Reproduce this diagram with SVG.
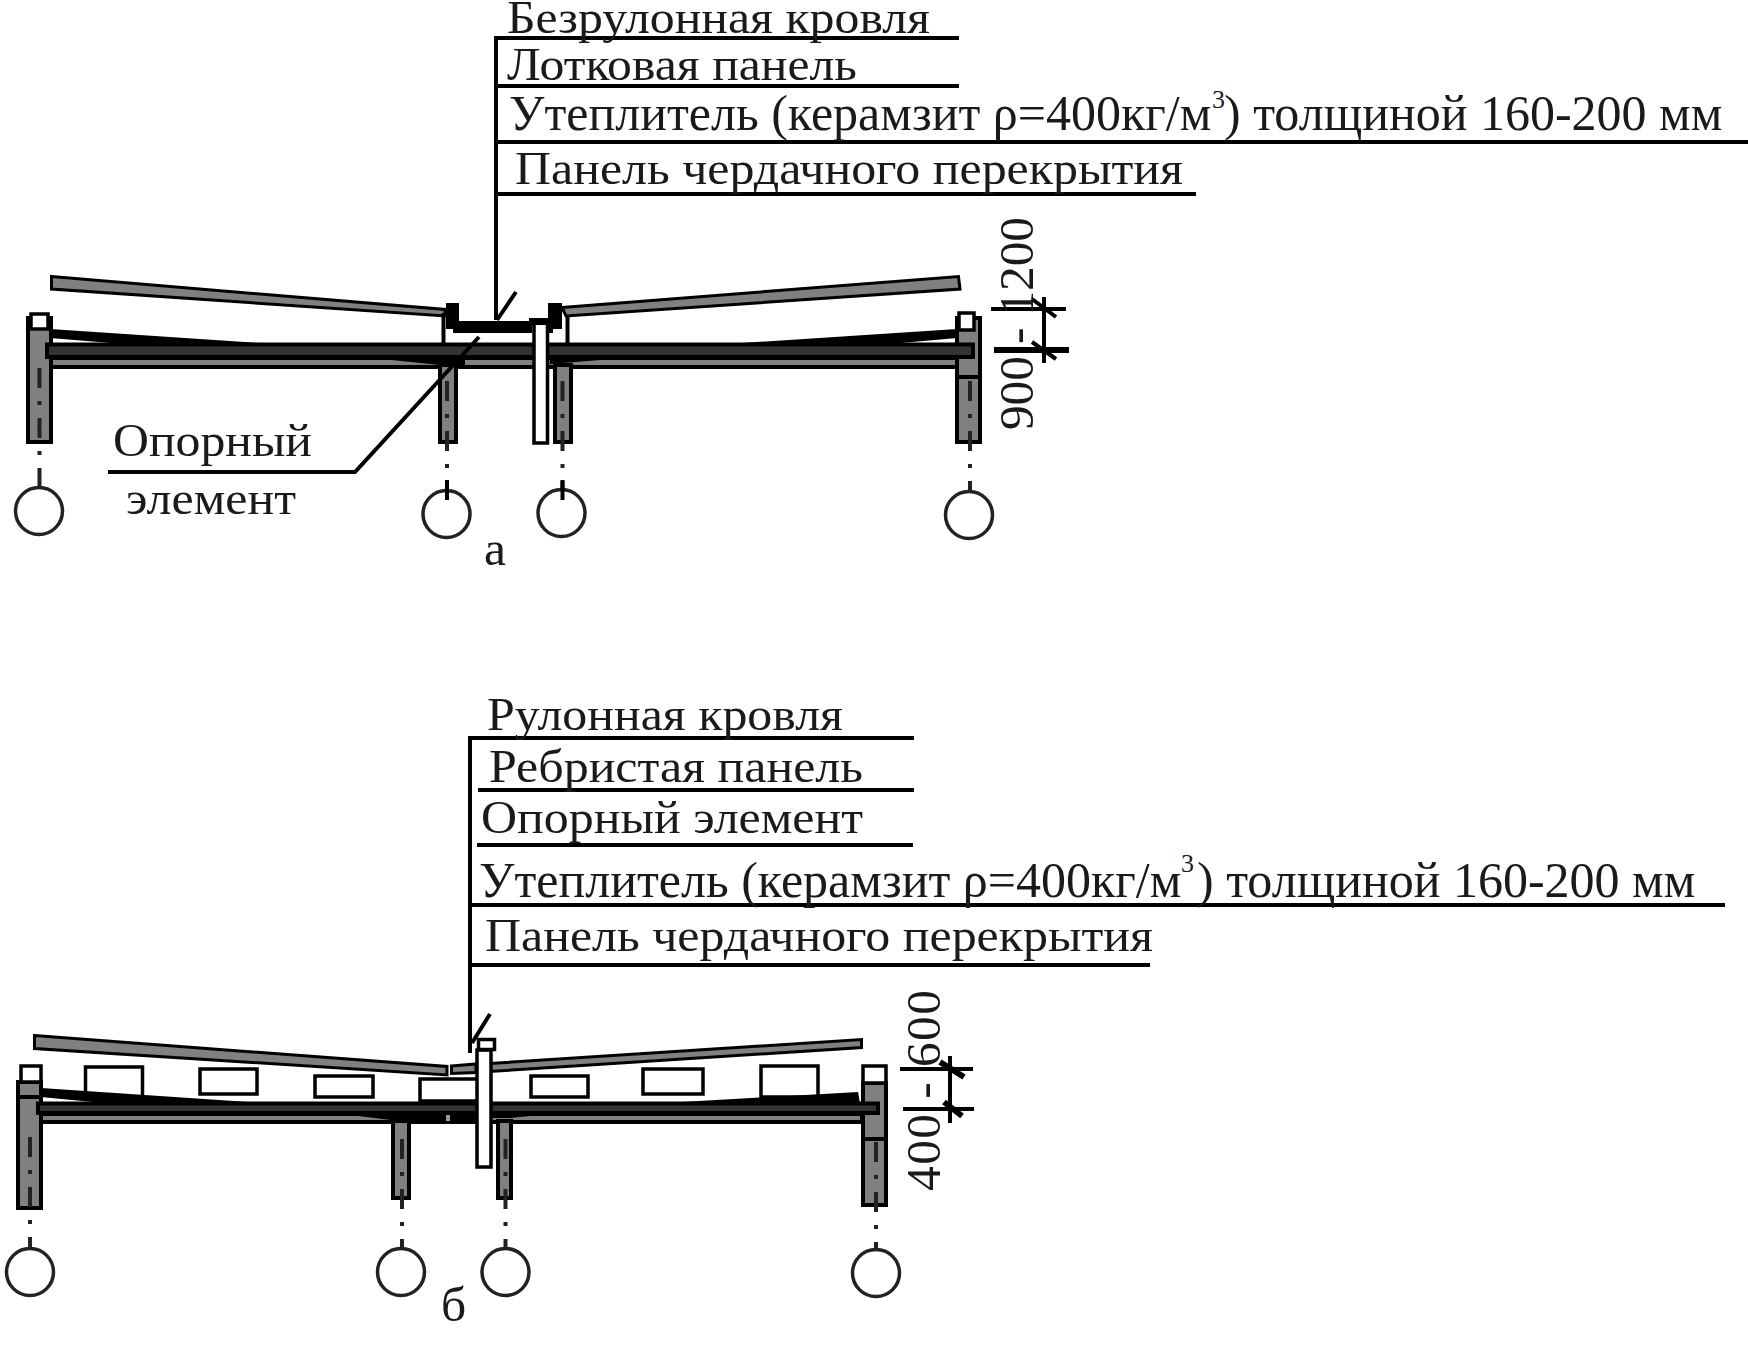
<svg xmlns="http://www.w3.org/2000/svg" width="1748" height="1367" viewBox="0 0 1748 1367">
<style>
text{font-family:"Liberation Serif","Times New Roman",serif;font-size:47px;fill:#1a1a1a}
.big{font-size:49.500px}
.wide{font-size:50px}
.sup{font-size:26px}
.g{fill:#808080;stroke:#000;stroke-width:4;stroke-linejoin:miter}
.r{fill:#808080;stroke:#000;stroke-width:3;stroke-linejoin:miter}
.d{fill:#333;stroke:#000;stroke-width:4}
.w{fill:#fff;stroke:#000;stroke-width:3.5}
.k{fill:#000;stroke:none}
.l{fill:none;stroke:#000;stroke-width:4}
.t{fill:none;stroke:#000;stroke-width:6}
.ax{fill:none;stroke:#222;stroke-width:4;stroke-dasharray:20 13 4 13}
.c{fill:#fff;stroke:#222;stroke-width:3.500}
</style>
<rect width="1748" height="1367" fill="#fff"/>

<g id="section-a">
  <polygon id="a-roof-left" class="r" points="51.500,276.500 445,309.500 445,316 51.500,289"/>
  <polygon id="a-roof-right" class="r" points="562,307.500 958.500,276.500 960,289 566,316"/>
  <g id="a-supports">
    <line class="l" x1="443.500" y1="313" x2="443.500" y2="344"/>
    <line class="l" x1="567.500" y1="315" x2="567.500" y2="344"/>
  </g>
  <rect id="a-lower-bar" class="g" x="41" y="358" width="916" height="9"/>
  <rect id="a-col-1" class="g" x="28" y="318" width="23" height="124"/>
  <rect id="a-col-2" class="g" x="440" y="365" width="16" height="77"/>
  <rect id="a-col-3" class="g" x="555" y="365" width="16" height="77"/>
  <rect id="a-col-4" class="g" x="957" y="318" width="23" height="124"/>
  <line class="l" x1="955" y1="377" x2="981" y2="377"/>
  <polygon id="a-wedge-1" class="k" points="50,329 259,343 111,343 50,338"/>
  <polygon id="a-wedge-2" class="k" points="957,329 742,343 901,343 957,338"/>
  <polygon id="a-wedge-3" class="k" points="362,357 465,357 465,365 440,365"/>
  <polygon id="a-wedge-4" class="k" points="550,357 638,357 550,364"/>
  <rect id="a-top-bar" class="d" x="47" y="344.500" width="926" height="12.500"/>
  <rect id="a-cap-1" class="w" x="31" y="314" width="17" height="15"/>
  <rect id="a-cap-4" class="w" x="959" y="313" width="15" height="17"/>
  <polygon id="a-tray" class="k" points="446,303 459,303 459,321 532,321 532,333 453,333 453,329 446,329"/>
  <polygon id="a-tray-right" class="k" points="548,303 562,303 562,329 553,329 553,333 548,333"/>
  <rect id="a-post" class="w" x="534" y="323" width="13.500" height="120"/>
  <rect id="a-post-cap" class="k" x="529" y="318" width="19" height="7"/>
  <line class="ax" x1="39.500" y1="368" x2="39.500" y2="487"/>
  <line class="ax" x1="447" y1="381" x2="447" y2="500"/>
  <line class="ax" x1="562.500" y1="381" x2="562.500" y2="500"/>
  <line class="ax" x1="970" y1="381" x2="970" y2="490"/>
  <circle id="a-axis-1" class="c" cx="39" cy="511" r="23.500"/>
  <circle id="a-axis-2" class="c" cx="446.500" cy="514" r="23.500"/>
  <circle id="a-axis-3" class="c" cx="561.500" cy="513" r="23.500"/>
  <circle id="a-axis-4" class="c" cx="969" cy="515" r="23.500"/>
  <line class="l" x1="447" y1="480" x2="447" y2="500"/>
  <line class="l" x1="562.500" y1="480" x2="562.500" y2="500"/>
</g>

<g id="section-b">
  <polygon id="b-roof-left" class="r" points="34.500,1035.500 447,1066.500 447,1075 34.500,1048.500"/>
  <polygon id="b-roof-mid" class="r" points="451.500,1066 476,1064 476,1072.500 451.500,1073.500"/>
  <polygon id="b-roof-right" class="r" points="490,1063.500 861.500,1039.500 861.500,1047.500 490,1071.500"/>
  <rect id="b-r1" class="w" x="85.500" y="1067" width="57" height="31"/>
  <rect id="b-r2" class="w" x="200" y="1069" width="57" height="25"/>
  <rect id="b-r3" class="w" x="315" y="1076" width="58" height="21"/>
  <rect id="b-r4" class="w" x="420" y="1079" width="58" height="22"/>
  <rect id="b-r5" class="w" x="531" y="1076" width="57" height="21"/>
  <rect id="b-r6" class="w" x="643" y="1069" width="60" height="25"/>
  <rect id="b-r7" class="w" x="761" y="1066" width="57" height="31"/>
  <rect id="b-lower-bar" class="g" x="32" y="1114" width="830" height="8"/>
  <rect id="b-col-1" class="g" x="18" y="1082" width="23" height="126"/>
  <rect id="b-col-2" class="g" x="393" y="1121" width="16" height="77"/>
  <rect id="b-col-3" class="g" x="498" y="1121" width="13" height="77"/>
  <rect id="b-col-4" class="g" x="863" y="1083" width="23" height="122"/>
  <line class="l" x1="16" y1="1097" x2="40" y2="1097"/>
  <line class="l" x1="861" y1="1139" x2="887" y2="1139"/>
  <polygon id="b-wedge-1" class="k" points="41,1088 265,1103 103,1103 41,1097"/>
  <polygon id="b-wedge-2" class="k" points="858,1092 664,1103 860,1103"/>
  <polygon id="b-wedge-3" class="k" points="334,1113 478,1113 478,1120 391,1120"/>
  <polygon id="b-wedge-4" class="k" points="490,1113 560,1113 510,1118 490,1118"/>
  <rect id="b-top-bar" class="d" x="38" y="1103.500" width="840" height="9.500"/>
  <rect id="b-grey-tab" x="446" y="1115" width="4" height="6" fill="#999"/>
  <rect id="b-cap-1" class="w" x="21" y="1066" width="20" height="16"/>
  <rect id="b-cap-4" class="w" x="863" y="1066" width="23" height="17"/>
  <rect id="b-post" class="w" x="477" y="1050" width="14" height="117"/>
  <rect id="b-post-cap" class="w" x="478.500" y="1039.500" width="16" height="10"/>
  <line class="ax" x1="30" y1="1137" x2="30" y2="1247"/>
  <line class="ax" x1="402" y1="1139" x2="402" y2="1247"/>
  <line class="ax" x1="505.500" y1="1139" x2="505.500" y2="1247"/>
  <line class="ax" x1="876" y1="1142" x2="876" y2="1248"/>
  <circle id="b-axis-1" class="c" cx="30" cy="1272" r="23.500"/>
  <circle id="b-axis-2" class="c" cx="401" cy="1272" r="23.500"/>
  <circle id="b-axis-3" class="c" cx="505.500" cy="1272" r="23.500"/>
  <circle id="b-axis-4" class="c" cx="876" cy="1273" r="23.500"/>
</g>

<g id="connectors">
  <path class="l" d="M959 38H496V320M497 320L516 292M496 86H959M496 142H1748M496 194H1196"/>
  <path class="l" d="M108 472H355L479 337"/>
  <path class="l" d="M914 738H470V1053M472 1043L490 1014M478 790H914M477 845H913M470 905H1725M470 965H1150"/>
  <path class="l" d="M1044 297V363M991 309H1066M1032 299L1056 317M1032 342L1056 359"/>
  <path class="t" d="M994 350H1069"/>
  <path class="l" d="M950 1056V1123M900 1069H973M903 1109H974"/>
  <path class="t" d="M940 1062L964 1077M944 1102L962 1116"/>
</g>

<g id="labels">
  <text x="507" y="33" textLength="423" lengthAdjust="spacingAndGlyphs">Безрулонная кровля</text>
  <text x="507" y="80" textLength="350" lengthAdjust="spacingAndGlyphs">Лотковая панель</text>
  <text class="wide" y="130"><tspan x="509">Утеплитель (керамзит ρ=400кг/м</tspan><tspan class="sup" x="1212" y="108">3</tspan><tspan x="1224" y="130">) толщиной 160-200 мм</tspan></text>
  <text x="515" y="184" textLength="668" lengthAdjust="spacingAndGlyphs">Панель чердачного перекрытия</text>
  <text x="113" y="456" textLength="199" lengthAdjust="spacingAndGlyphs">Опорный</text>
  <text x="126" y="514" textLength="170" lengthAdjust="spacingAndGlyphs">элемент</text>
  <text class="big" x="484" y="565">а</text>
  <text class="big" transform="translate(1033 430) rotate(-90)" textLength="213">900 - 1200</text>
  <text x="487" y="730" textLength="356" lengthAdjust="spacingAndGlyphs">Рулонная кровля</text>
  <text x="489" y="782" textLength="374" lengthAdjust="spacingAndGlyphs">Ребристая панель</text>
  <text x="481" y="833" textLength="382" lengthAdjust="spacingAndGlyphs">Опорный элемент</text>
  <text class="wide" y="897"><tspan x="479">Утеплитель (керамзит ρ=400кг/м</tspan><tspan class="sup" x="1181" y="872">3</tspan><tspan x="1197" y="897">) толщиной 160-200 мм</tspan></text>
  <text x="485" y="951" textLength="668" lengthAdjust="spacingAndGlyphs">Панель чердачного перекрытия</text>
  <text class="big" transform="translate(940 1191) rotate(-90)" textLength="201">400 - 600</text>
  <text class="big" x="441" y="1321">б</text>
</g>
</svg>
